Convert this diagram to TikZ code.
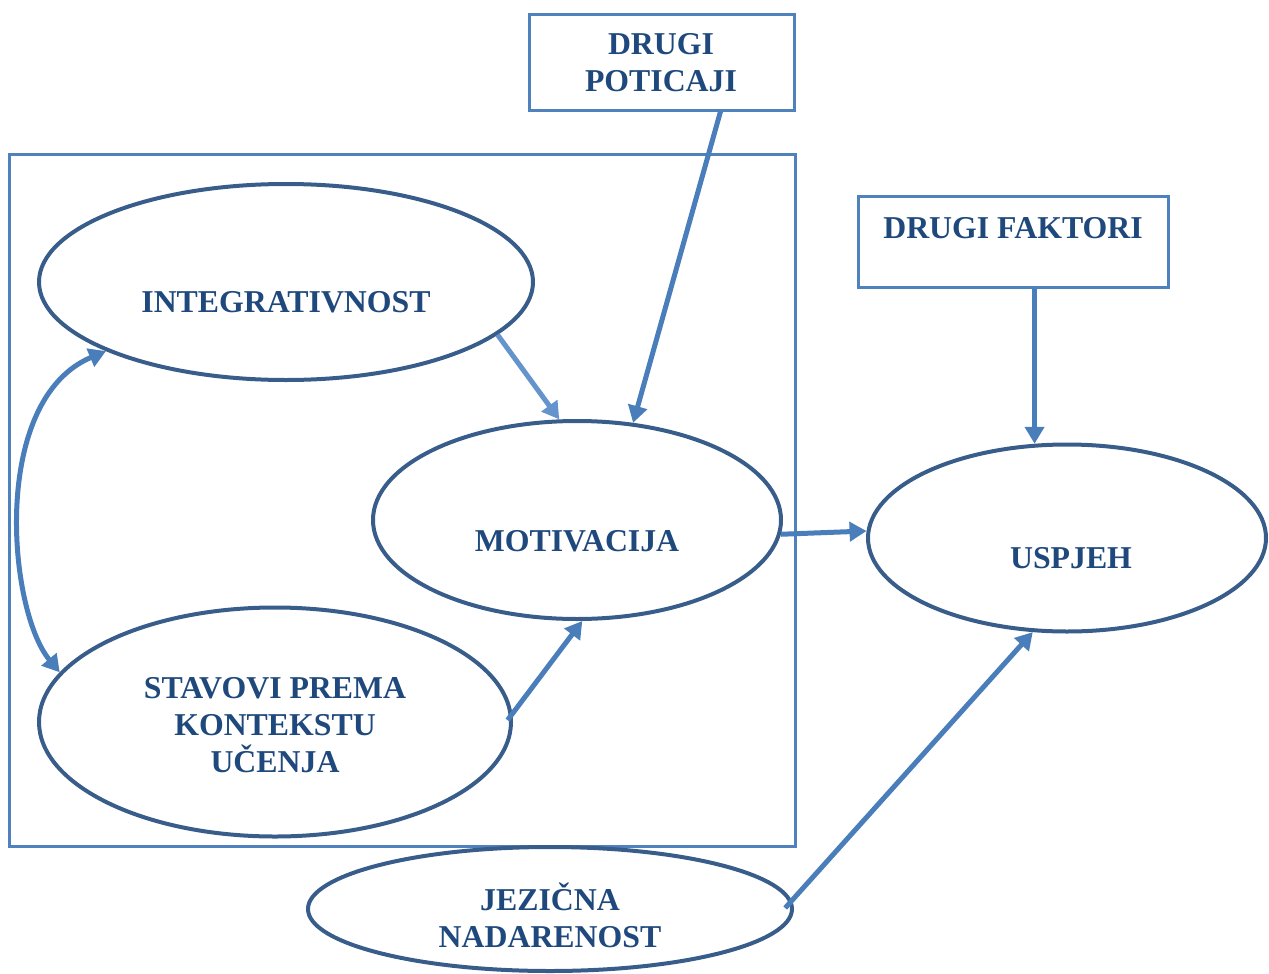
\documentclass[tikz,border=0pt]{standalone}
\usepackage{fontspec}
\setmainfont{Liberation Serif}
\usetikzlibrary{shapes.geometric,arrows.meta}
\definecolor{txtblue}{HTML}{1F497D}
\definecolor{ellblue}{HTML}{385D8A}
\definecolor{arrblue}{HTML}{4A7EBB}
\definecolor{arrlight}{HTML}{6593CC}
\definecolor{boxblue}{HTML}{4F81BD}
\tikzset{
  oval/.style={ellipse, draw=ellblue, line width=4pt, inner sep=0pt},
  frame/.style={draw=boxblue, line width=3pt},
  label text/.style={text=txtblue, font=\fontsize{31.8}{37}\selectfont\bfseries, align=center, inner sep=0pt},
  conn/.style={draw=arrblue, line width=5pt, -{Triangle[length=17pt,width=19pt]}},
}
\begin{document}
\begin{tikzpicture}[x=1pt,y=-1pt]
\useasboundingbox (0,0) rectangle (1269,974);

% outer frame around the motivation model
\draw[frame] (9,154) rectangle (795,846);

% boxes
\node[frame, minimum width=265pt, minimum height=95pt] (dp) at (661.5,62.5) {};
\node[label text] (dpt) at (661,63) {DRUGI\\POTICAJI};
\node[frame, minimum width=310pt, minimum height=91pt] (df) at (1013,241.5) {};
\node[label text] (dft) at (1013,228) {DRUGI FAKTORI};

% ellipses
\node[oval, minimum width=494pt, minimum height=196pt] (integ) at (286,282) {};
\node[label text] (integt) at (286,302) {INTEGRATIVNOST};
\node[oval, minimum width=408pt, minimum height=198pt] (motiv) at (577,520) {};
\node[label text] (motivt) at (577,541) {MOTIVACIJA};
\node[oval, minimum width=472pt, minimum height=229pt] (stav) at (275,722) {};
\node[label text] (stavt) at (275,725) {STAVOVI PREMA\\KONTEKSTU\\UČENJA};
\node[oval, minimum width=398pt, minimum height=187pt] (usp) at (1067,538) {};
\node[label text] (uspt) at (1071,558) {USPJEH};
\node[oval, minimum width=484pt, minimum height=124pt] (jez) at (550,909) {};
\node[label text] (jezt) at (550,915) {JEZIČNA\\NADARENOST};

% connectors
\draw[conn, draw=arrlight] (integ.-14) -- (motiv.100);
\draw[conn] ([xshift=59pt]dp.south) -- (motiv.60);
\draw[conn, shorten <=-8pt] (stav.2) -- (motiv.-87);
\draw[conn] (motiv.-4) -- (usp.178.6);
\draw[conn] (df.south -| usp.109) -- (usp.109);
\draw[conn, shorten <=-10pt] (jez.2) -- (usp.-110);
\draw[draw=arrblue, line width=5pt, {Triangle[length=17pt,width=19pt]}-{Triangle[length=17pt,width=19pt]}]
  (integ.-159.7) .. controls (-10,400) and (8,610) .. (stav.167);
\end{tikzpicture}
\end{document}
